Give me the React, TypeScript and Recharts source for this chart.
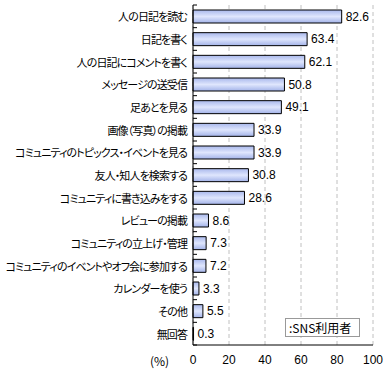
import React from 'react';
import { BarChart, Bar, XAxis, YAxis, CartesianGrid, LabelList } from 'recharts';

const categories = [
  '人の日記を読む',
  '日記を書く',
  '人の日記にコメントを書く',
  'メッセージの送受信',
  '足あとを見る',
  '画像（写真）の掲載',
  'コミュニティのトピックス・イベントを見る',
  '友人・知人を検索する',
  'コミュニティに書き込みをする',
  'レビューの掲載',
  'コミュニティの立上げ・管理',
  'コミュニティのイベントやオフ会に参加する',
  'カレンダーを使う',
  'その他',
  '無回答',
];
const values = [82.6, 63.4, 62.1, 50.8, 49.1, 33.9, 33.9, 30.8, 28.6, 8.6, 7.3, 7.2, 3.3, 5.5, 0.3];
const xTicks = [0, 20, 40, 60, 80, 100];
const seriesName = 'SNS利用者';

const data = categories.map((c, i) => ({ name: c, value: values[i] }));

const JP = '"Noto Sans CJK JP", sans-serif';

const YTick = (props: any) => {
  const { x, y, payload, index, visibleTicksCount } = props;
  const half = payload.offset ?? 11.3;
  const ax = x + 5;
  return (
    <g>
      <text
        x={x - 1}
        y={y}
        textAnchor="end"
        dominantBaseline="central"
        fontSize={11}
        fill="#000"
        letterSpacing={-0.9}
        style={{ fontFamily: JP, fontFeatureSettings: '"palt"' }}
      >
        {payload.value}
      </text>
      <line x1={ax} x2={ax + 4} y1={y - half} y2={y - half} stroke="#000" />
      {index === visibleTicksCount - 1 ? (
        <line x1={ax} x2={ax + 4} y1={y + half} y2={y + half} stroke="#000" />
      ) : null}
    </g>
  );
};

export default function App() {
  return (
    <div style={{ position: 'absolute', left: 0, top: 0, width: 385, height: 375, background: '#fff' }}>
      <BarChart
        width={385}
        height={375}
        data={data}
        layout="vertical"
        margin={{ top: 5, right: 12, bottom: 10, left: 0 }}
        barSize={13}
      >
        <defs>
          <linearGradient id="barGrad" x1="0" y1="0" x2="0" y2="1">
            <stop offset="0%" stopColor="#a9b8ec" />
            <stop offset="50%" stopColor="#dfe6fd" />
            <stop offset="100%" stopColor="#a3b3e9" />
          </linearGradient>
        </defs>
        <CartesianGrid horizontal={false} vertical stroke="#c0c0c0" strokeDasharray="4 3" />
        <XAxis
          type="number"
          domain={[0, 100]}
          ticks={xTicks}
          tickLine={false}
          tickSize={0}
          tickMargin={10}
          axisLine={{ stroke: '#000' }}
          height={20}
          tick={{ fontSize: 12, fill: '#000', fontFamily: '"Liberation Sans", sans-serif' }}
        />
        <XAxis xAxisId="top" orientation="top" type="number" domain={[0, 100]} tick={false} tickLine={false} height={0} axisLine={{ stroke: '#999' }} />
        <YAxis
          type="category"
          dataKey="name"
          width={193}
          tickLine={false}
          tickSize={0}
          tickMargin={5}
          axisLine={{ stroke: '#000' }}
          interval={0}
          tick={<YTick />}
        />
        <YAxis yAxisId="right" orientation="right" type="category" dataKey="name" tick={false} tickLine={false} width={0} axisLine={{ stroke: '#999' }} />
        <Bar dataKey="value" name={seriesName} fill="url(#barGrad)" stroke="#000" strokeWidth={1} isAnimationActive={false}>
          <LabelList
            dataKey="value"
            position="right"
            offset={4}
            style={{ fontSize: 12, fill: '#000', fontFamily: '"Liberation Sans", sans-serif' }}
          />
        </Bar>
      </BarChart>
      <div
        style={{
          position: 'absolute',
          left: 150,
          top: 353,
          fontSize: 12,
          fontFamily: JP,
          lineHeight: '16px',
        }}
      >
        (%)
      </div>
      <div
        style={{
          position: 'absolute',
          left: 285,
          top: 318,
          width: 75,
          height: 19,
          border: '1px solid #999',
          background: '#fff',
          fontSize: 12,
          fontFamily: JP,
          lineHeight: '17px',
          paddingLeft: 3,
          boxSizing: 'border-box',
          whiteSpace: 'nowrap',
        }}
      >
        :{seriesName}
      </div>
    </div>
  );
}
